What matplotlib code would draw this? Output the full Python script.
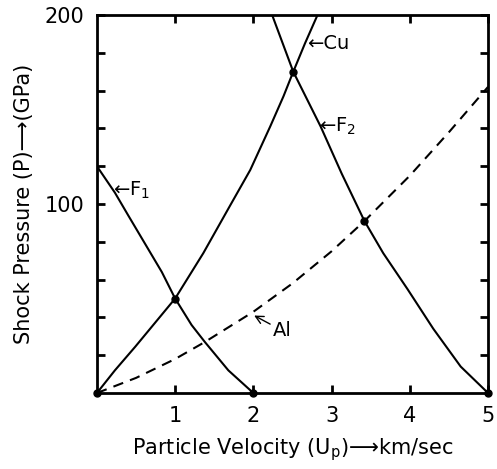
import numpy as np
import matplotlib.pyplot as plt

# Hugoniot curves: particle velocity (km/sec) vs shock pressure (GPa)
cu_u = [0, 0.23, 0.49, 0.74, 1.0, 1.36, 1.70, 1.96, 2.215, 2.385, 2.51, 2.66, 2.82]
cu_p = [0, 12, 24.5, 37, 50, 74, 99, 118, 141, 157, 170, 185, 200]

f1_u = [0, 0.23, 0.40, 0.615, 0.83, 1.0, 1.21, 1.38, 1.68, 2.0]
f1_p = [120, 106, 94, 79, 64, 50, 36, 27, 12, 0]

f2_u = [2.24, 2.51, 2.86, 3.13, 3.42, 3.66, 3.97, 4.3, 4.65, 5.0]
f2_p = [200, 170, 141, 116, 91, 74, 55, 34, 14, 0]

al_u = [0, 0.5, 1.0, 1.38, 2.0, 2.5, 3.0, 3.42, 4.0, 4.5, 5.0]
al_p = [0, 8, 18, 27, 43, 58, 75, 91, 115, 138, 162]

# impedance-match points
pt_u = [0, 1.0, 2.0, 2.51, 3.42, 5.0]
pt_p = [0, 50, 0, 170, 91, 0]

fs = 15
plt.rcParams['font.family'] = ['DejaVu Sans']

fig = plt.figure(figsize=(4.97, 4.69), dpi=100)
ax = fig.add_axes([0.195, 0.162, 0.787, 0.806])

ax.plot(cu_u, cu_p, "k-", lw=1.5)
ax.plot(f1_u, f1_p, "k-", lw=1.5)
ax.plot(f2_u, f2_p, "k-", lw=1.5)
ax.plot(al_u, al_p, "k--", lw=1.5, dashes=(5, 3.5))
ax.plot(pt_u, pt_p, "ko", ms=5, clip_on=False)

ax.text(0.2, 107, "←F$_1$", fontsize=fs - 1, va="center")
ax.text(2.68, 185, "←Cu", fontsize=fs - 1, va="center")
ax.text(2.84, 141, "←F$_2$", fontsize=fs - 1, va="center")
ax.annotate("Al", xy=(2.01, 41), xytext=(2.25, 33), fontsize=fs - 1, va="center",
            arrowprops=dict(arrowstyle="->", lw=1.0, color="k", shrinkA=0, shrinkB=0))

ax.set_xlim(0, 5)
ax.set_ylim(0, 200)
ax.set_xticks([1, 2, 3, 4, 5])
ax.set_xticklabels(["1", "2", "3", "4", "5"])
ax.set_yticks(np.arange(20, 201, 20))
ax.set_yticklabels(["" if v not in (100, 200) else str(v) for v in range(20, 201, 20)])
ax.tick_params(direction="in", length=6, width=2, top=True, right=True,
               labelsize=fs, pad=9)

for s in ax.spines.values():
    s.set_linewidth(2)

ax.set_xlabel(r"Particle Velocity (U$_\mathrm{p}$)⟶km/sec", fontsize=fs, labelpad=8)
ax.set_ylabel("Shock Pressure (P)⟶(GPa)", fontsize=fs, labelpad=8)

fig.savefig("out.png", dpi=100)
